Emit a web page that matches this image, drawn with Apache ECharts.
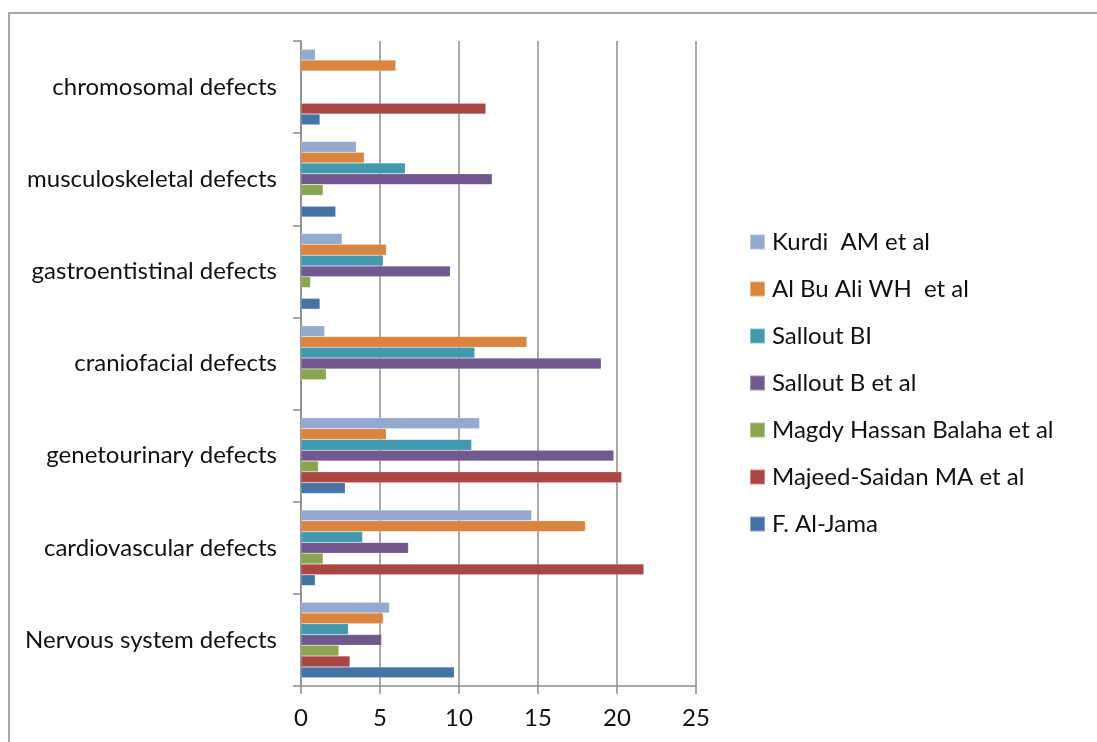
<!DOCTYPE html>
<html>
<head>
<meta charset="utf-8">
<style>
  html, body { margin: 0; padding: 0; background: #fff; }
  #frame { position: absolute; left: 8px; top: 12px; right: -4px; bottom: -4px; border: 2px solid #a6a6a6; box-sizing: border-box; }
  #chart { position: absolute; left: 0; top: 0; width: 1097px; height: 742px; }
</style>
<script src="https://cdn.jsdelivr.net/npm/echarts@6/dist/echarts.min.js"></script>
</head>
<body>
<div id="frame"></div>
<div id="chart"></div>
<script>
// Defect groups, listed bottom to top along the category axis
const categories = [
  'Nervous system defects',
  'cardiovascular defects',
  'genetourinary defects',
  'craniofacial defects',
  'gastroentistinal defects',
  'musculoskeletal defects',
  'chromosomal defects'
];

// Studies, one value per defect group (same order as categories); null = not reported
const kurdi         = [5.6, 14.6, 11.3, 1.5, 2.6, 3.5, 0.9];
const alBuAli       = [5.2, 18.0, 5.4, 14.3, 5.4, 4.0, 6.0];
const salloutBI     = [3.0, 3.9, 10.8, 11.0, 5.2, 6.6, null];
const salloutBetAl  = [5.1, 6.8, 19.8, 19.0, 9.45, 12.1, null];
const magdyBalaha   = [2.4, 1.4, 1.1, 1.6, 0.6, 1.4, null];
const majeedSaidan  = [3.1, 21.7, 20.3, null, null, null, 11.7];
const fAlJama       = [9.7, 0.9, 2.8, null, 1.2, 2.2, 1.2];

const xTicks = [0, 5, 10, 15, 20, 25];

// Listed top to bottom within each group, same as the legend
const studies = [
  { name: 'Kurdi  AM et al', data: kurdi, color: '#93a9cf' },
  { name: 'Al Bu Ali WH  et al', data: alBuAli, color: '#db843d' },
  { name: 'Sallout BI', data: salloutBI, color: '#4198af' },
  { name: 'Sallout B et al', data: salloutBetAl, color: '#71588f' },
  { name: 'Magdy Hassan Balaha et al', data: magdyBalaha, color: '#89a54e' },
  { name: 'Majeed-Saidan MA et al', data: majeedSaidan, color: '#aa4643' },
  { name: 'F. Al-Jama', data: fAlJama, color: '#4572a7' }
];

const font = 'Lato, "Open Sans", sans-serif';
const textColor = '#111';
const axisGray = '#8c8c8c';

const chart = echarts.init(document.getElementById('chart'), null, { renderer: 'canvas' });
chart.setOption({
  animation: false,
  backgroundColor: 'transparent',
  grid: { left: 301, top: 41, width: 395, height: 645, containLabel: false },
  legend: {
    orient: 'vertical',
    left: 744,
    top: 225,
    itemWidth: 15,
    itemHeight: 15,
    itemGap: 23,
    icon: 'rect',
    data: studies.map(s => s.name),
    textStyle: { fontFamily: font, fontSize: 24, color: textColor, padding: [0, 0, 0, 2] }
  },
  xAxis: {
    type: 'value',
    min: xTicks[0],
    max: xTicks[xTicks.length - 1],
    interval: 5,
    axisLine: { show: true, lineStyle: { color: axisGray, width: 1.5 } },
    axisTick: { show: true, length: 8, lineStyle: { color: axisGray, width: 1.5 } },
    splitLine: { show: true, lineStyle: { color: axisGray, width: 1.5 } },
    axisLabel: { fontFamily: font, fontSize: 24, color: textColor, margin: 20 }
  },
  yAxis: {
    type: 'category',
    data: categories,
    axisLine: { show: true, lineStyle: { color: axisGray, width: 1.5 } },
    axisTick: { show: true, length: 8, lineStyle: { color: axisGray, width: 1.5 } },
    axisLabel: { fontFamily: font, fontSize: 24, color: textColor, margin: 24 }
  },
  series: studies.map(s => ({
    name: s.name,
    type: 'bar',
    data: s.data,
    barGap: '0%',
    barCategoryGap: '18%',
    itemStyle: { color: s.color, borderColor: 'rgba(255,255,255,0.35)', borderWidth: 0.5 }
  }))
});
</script>
</body>
</html>
